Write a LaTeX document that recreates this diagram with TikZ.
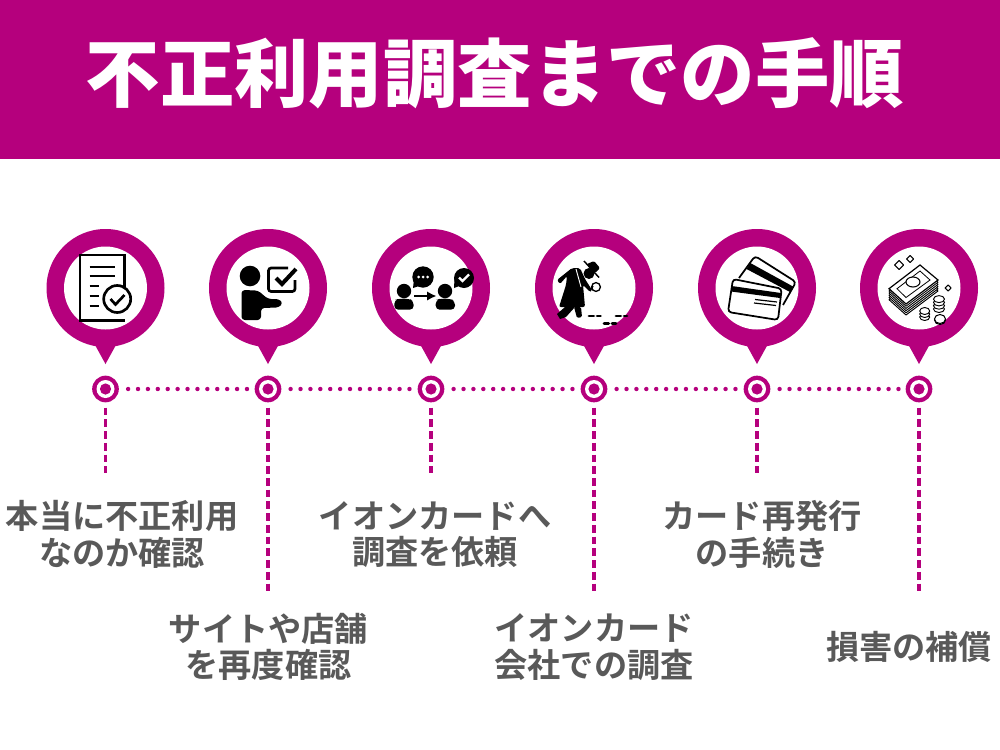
\documentclass[tikz,border=0pt]{standalone}
\usepackage{fontspec}
\usetikzlibrary{arrows.meta}
\setmainfont{Noto Sans CJK JP}[BoldFont={Noto Sans CJK JP Bold}]
\newfontfamily\titlefont{Noto Sans CJK JP Black}
\definecolor{mg}{HTML}{B5007D}
\definecolor{tx}{HTML}{595959}
\tikzset{
 pinring/.style={fill=mg,draw=none},
 dotline/.style={mg,line width=3.3pt,line cap=round,dash pattern=on 0pt off 7.43pt},
 dashline/.style={mg,line width=2.6pt,dash pattern=on 5.8pt off 3pt},
 lab/.style={text=tx,font=\fontsize{24.9pt}{27.5pt}\selectfont\bfseries,align=center,inner sep=0pt},
}
\newcommand{\pin}[2]{%
 \fill[pinring] (#1,#2) circle (59);
 \fill[pinring] (#1-11,#2+56) -- (#1,#2+76) -- (#1+11,#2+56) -- cycle;
 \fill[white] (#1,#2) circle (41.5);
}
\begin{document}
\begin{tikzpicture}[x=.75pt,y=-.75pt]
\useasboundingbox (0,0) rectangle (1000,750);
\fill[white] (0,0) rectangle (1000,750);
\fill[mg] (0,0) rectangle (1000,159);
\node[text=white,inner sep=0pt,font=\fontsize{55.8pt}{60pt}\titlefont] (title) at (495,73) {不正利用調査までの手順};
% pins
\pin{105.5}{288}\pin{268}{288}\pin{431}{288}\pin{594}{288}\pin{757}{288}\pin{919}{288}
% hubs
\foreach \n/\x in {a/105.5,b/268,c/431,d/594,e/757,f/919}{
 \node[circle,fill=mg,minimum size=20pt,inner sep=0pt] (\n) at (\x,389) {};
 \fill[white] (\x,389) circle (9);
 \fill[mg] (\x,389) circle (5.6);
}
% dotted links
\foreach \p/\q in {a/b,b/c,c/d,d/e,e/f}{
 \draw[dotline,shorten <=6.75pt,shorten >=4.5pt] (\p) -- (\q);
}
% labels
\node[lab] (la) at (122,534.5) {本当に不正利用\\なのか確認};
\node[lab] (lb) at (268.5,647) {サイトや店舗\\を再度確認};
\node[lab] (lc) at (435,534.5) {イオンカードへ\\調査を依頼};
\node[lab] (ld) at (594,647) {イオンカード\\会社での調査};
\node[lab] (le) at (762,534.5) {カード再発行\\の手続き};
\node[lab] (lf) at (909,647) {損害の補償};
% dashed
\coordinate (ea) at (105.5,473);\coordinate (eb) at (268,591);\coordinate (ec) at (431,473);
\coordinate (ed) at (594,591);\coordinate (ee) at (757,473);\coordinate (ef) at (919,591);
\foreach \n in {a,b,c,d,e,f}{\draw[dashline,shorten <=3.75pt] (\n) -- (e\n);}
% icon 1: document
\begin{scope}[shift={(105.5,288)}]
\draw[line width=1.9pt,line join=miter] (19,20) -- (19,-33) -- (-25.7,-33) -- (-25.7,32.5) -- (19,32.5);
\foreach \y in {-21,-12}{\draw[line width=1.9pt] (-16,\y) -- (9,\y);}
\foreach \y in {-2,8,18}{\draw[line width=1.9pt] (-16,\y) -- (-7,\y);}
\draw[line width=2pt,fill=white] (11.7,11) circle (13.5);
\draw[line width=2pt] (5,11) -- (10,16.5) -- (19,7);
\end{scope}
% icon 2: person + board
\begin{scope}[shift={(268,288)}]
\fill (-18,-12) circle (10.3);
\fill[rounded corners=2.5pt] (-26.5,32) -- (-26.5,2) -- (-10,2.5) -- (0,11) -- (11,11) -- (15,15) -- (11,19.5) -- (-7,20) -- (-7,32) -- cycle;
\draw[line width=2pt,rounded corners=2pt] (20,-20) -- (0.5,-20) -- (0.5,3.5) -- (27,3.5) -- (27,-8);
\draw[line width=3pt] (8,-10) -- (14,-4) -- (28,-19);
\end{scope}
% icon 3: two persons
\begin{scope}[shift={(431,288)}]
\fill (-27,3) circle (7.2);
\fill[rounded corners=3pt] (-36.7,21.7) -- (-36.7,12) -- (-32,10.7) -- (-22,10.7) -- (-17.3,13) -- (-17.3,21.7) -- cycle;
\fill (14,3) circle (7.2);
\fill[rounded corners=3pt] (4.7,21.7) -- (4.7,12) -- (9,10.7) -- (19,10.7) -- (24,13) -- (24,21.7) -- cycle;
\draw[line width=1.6pt,-{Latex[length=7pt,width=7pt]}] (-17,8) -- (5.5,8);
\fill (-8,-11) circle (10.7);
\fill (-18,0) -- (-17,-9) -- (-9,-3) -- cycle;
\fill[white] (-12.5,-11) circle (1.5) (-8,-11) circle (1.5) (-3.5,-11) circle (1.5);
\fill (33,-10) circle (10);
\fill (23,0) -- (23.5,-9) -- (31,-3) -- cycle;
\draw[white,line width=1.7pt] (28,-10.5) -- (31.5,-7) -- (38,-13.5);
\end{scope}
% icon 4: detective
\begin{scope}[shift={(594,288)}]
\fill[rounded corners=1.5pt] (-37,-8) -- (-22,-20) -- (-14,-20) -- (-9,-9) -- (-2,2) -- (-4,4) -- (-11,-3) -- (-9,19) -- (-35,19) -- (-28,-3) -- (-27,-12) -- (-34,-4) -- cycle;
\draw[white,line width=.7pt] (-18,-19) -- (-13,-1);
\fill (-29,19) -- (-19,19) -- (-28,29) -- (-34,31) -- (-37,26) -- cycle;
\fill[rounded corners=1pt] (-20,19) -- (-13,19) -- (-12,29) -- (-17,30) -- cycle;
\fill (-5,-14.5) circle (5.5);
\fill[rounded corners=1pt] (-7,-24) -- (1,-15) -- (6,-20) -- (0,-27) -- cycle;
\draw[line width=1.1pt] (-10,-27) -- (5,-10.5);
\draw[line width=1.1pt] (-1,-2) -- (-4,3);
\draw[line width=1pt] (2,-1) circle (4.4);
\draw[line width=2.2pt,line cap=round,dash pattern=on 3.5pt off 2.6pt] (-5,28) -- (6.5,28);
\draw[line width=2.2pt,line cap=round,dash pattern=on 3.5pt off 2.6pt] (22,28) -- (33,28);
\draw[line width=2.2pt,line cap=round,dash pattern=on 3.5pt off 2.6pt] (10,35.5) -- (22,35.5);
\end{scope}
% icon 5: cards
\begin{scope}[shift={(757,288)}]
\draw[line width=1.3pt,rounded corners=2.5pt] (-18,-10) -- (-2,-32) -- (39,-6) -- (26,17);
\fill (-6.7,-25) -- (36,-1.5) -- (33,4) -- (-10.5,-19) -- cycle;
\draw[line width=1.3pt,rounded corners=2.5pt,fill=white] (-24,-9) -- (24.7,0.7) -- (21,32) -- (-29,24) -- cycle;
\fill (-25.5,-2) -- (24,5) -- (23,10) -- (-26,3.5) -- cycle;
\draw[line width=.9pt] (-2,11.5) -- (20,14) (-3,15) -- (19,17.5);
\end{scope}
% icon 6: money
\begin{scope}[shift={(919,288)}]
\foreach \d in {11,8.8,6.6,4.4,2.2}{
\draw[line width=.7pt,fill=white,line join=round] (-30,0.7+\d) -- (1,-23+\d) -- (19,-8+\d) -- (-13,16+\d) -- cycle;
}
\draw[line width=.9pt,fill=white] (-30,0.7) -- (1,-23) -- (19,-8) -- (-13,16) -- cycle;
\draw[line width=.6pt] (-22,0.7) -- (1,-17) -- (11,-8) -- (-13,9.5) -- cycle;
\draw[line width=.8pt,fill=white] (-6,-6) ellipse (7 and 5);
\foreach \i in {0,1,2,3}{\draw[line width=.7pt,fill=white] (20,21-3.3*\i) ellipse (5.5 and 3.5);}
\foreach \i in {0,1,2}{\draw[line width=.7pt,fill=white] (5.7,29-3*\i) ellipse (5 and 3.5);}
\draw[line width=.8pt,fill=white] (21,32) ellipse (5.5 and 4.5);
\draw[line width=.8pt,fill=white] (21,31) ellipse (5.5 and 4.5);
\draw[line width=.8pt,line join=round] (-20,-27.5) -- (-15.5,-23) -- (-20,-18.5) -- (-24.5,-23) -- cycle;
\draw[line width=.8pt,line join=round] (-9,-32.5) -- (-5.5,-29) -- (-9,-25.5) -- (-12.5,-29) -- cycle;
\draw[line width=.8pt,line join=round] (29,-3) -- (32,0) -- (29,3) -- (26,0) -- cycle;
\end{scope}
\end{tikzpicture}
\end{document}
